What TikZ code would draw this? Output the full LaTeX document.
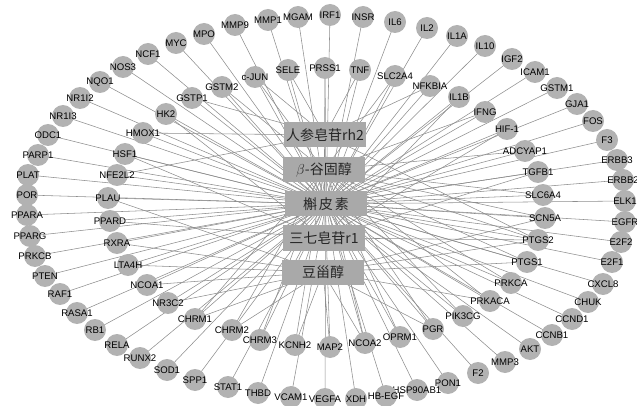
\documentclass[tikz,border=0pt]{standalone}
\usepackage{fontspec}
\newfontfamily\lsans{Liberation Sans}
\newfontfamily\cjk{Noto Sans CJK SC}
\pgfdeclarelayer{background}
\pgfsetlayers{background,main}
\definecolor{nodegray}{HTML}{B2B2B2}
\definecolor{boxgray}{HTML}{A9A9A9}
\definecolor{edgegray}{HTML}{8E8E8E}
\tikzset{
  gene/.style={circle, fill=nodegray, minimum size=22pt, inner sep=0pt},
  glabel/.style={font=\lsans\fontsize{9.6}{10}\selectfont, text=black, inner sep=0pt},
  comp/.style={rectangle, fill=boxgray, minimum width=82pt, minimum height=25pt, inner sep=0pt,
     font=\cjk\fontsize{14}{16}\selectfont, text=black!85},
  edge/.style={draw=edgegray, line width=0.55pt}
}
\newcommand{\gn}[4]{\node[gene, label={[glabel]center:#4}] (#1) at (#2,#3) {};}
\begin{document}
\begin{tikzpicture}[x=1pt,y=-1pt]
\useasboundingbox (0,0) rectangle (637,406);
% compounds
\node[comp] (RH2) at (325,135) {人参皂苷rh2};
\node[comp] (BS) at (324,170) {$\beta$-谷固醇};
\node[comp] (QU) at (326,204) {槲\hspace{2pt}皮\hspace{2pt}素};
\node[comp] (R1) at (324,238) {三七皂苷r1};
\node[comp] (ST) at (323,272) {豆甾醇};
% outer ring
\gn{IRF1}{330}{15}{IRF1}
\gn{INSR}{363}{17}{INSR}
\gn{IL6}{395}{22}{IL6}
\gn{IL2}{427}{28}{IL2}
\gn{ILoneA}{457}{36}{IL1A}
\gn{ILten}{485}{46}{IL10}
\gn{IGF2}{512}{59}{IGF2}
\gn{ICAM1}{535}{72}{ICAM1}
\gn{GSTM1}{557}{88}{GSTM1}
\gn{GJA1}{577}{104}{GJA1}
\gn{FOS}{593}{121}{FOS}
\gn{F3}{607}{140}{F3}
\gn{ERBB3}{617}{160}{ERBB3}
\gn{ERBB2}{623}{180}{ERBB2}
\gn{ELK1}{625}{201}{ELK1}
\gn{EGFR}{625}{222}{EGFR}
\gn{E2F2}{621}{242}{E2F2}
\gn{E2F1}{612}{262}{E2F1}
\gn{CXCL8}{603}{284}{CXCL8}
\gn{CHUK}{588}{302}{CHUK}
\gn{CCND1}{572}{319}{CCND1}
\gn{CCNB1}{552}{335}{CCNB1}
\gn{AKT}{530}{349}{AKT}
\gn{MMP3}{505}{362}{MMP3}
\gn{F2}{478}{373}{F2}
\gn{PON1}{448}{383}{PON1}
\gn{HSP}{417}{390}{HSP90AB1}
\gn{HBEGF}{386}{396}{HB-EGF}
\gn{XDH}{356}{399}{XDH}
\gn{VEGFA}{325}{399}{VEGFA}
\gn{VCAM1}{291}{397}{VCAM1}
\gn{THBD}{258}{393}{THBD}
\gn{STAT1}{228}{387}{STAT1}
\gn{SPP1}{195}{380}{SPP1}
\gn{SOD1}{167}{370}{SOD1}
\gn{RUNX2}{140}{358}{RUNX2}
\gn{RELA}{117}{345}{RELA}
\gn{RB1}{95}{330}{RB1}
\gn{RASA1}{77}{313}{RASA1}
\gn{RAF1}{60}{294}{RAF1}
\gn{PTEN}{45}{276}{PTEN}
\gn{PRKCB}{35}{256}{PRKCB}
\gn{PPARG}{30}{236}{PPARG}
\gn{PPARA}{27}{215}{PPARA}
\gn{POR}{27}{195}{POR}
\gn{PLAT}{28}{175}{PLAT}
\gn{PARP1}{38}{155}{PARP1}
\gn{ODC1}{48}{135}{ODC1}
\gn{NR1I3}{63}{116}{NR1I3}
\gn{NR1I2}{80}{98}{NR1I2}
\gn{NQO1}{100}{82}{NQO1}
\gn{NOS3}{123}{67}{NOS3}
\gn{NCF1}{148}{54}{NCF1}
\gn{MYC}{176}{43}{MYC}
\gn{MPO}{204}{34}{MPO}
\gn{MMP9}{235}{25}{MMP9}
\gn{MMP1}{268}{20}{MMP1}
\gn{MGAM}{298}{17}{MGAM}
% inner ring
\gn{SELE}{288}{70}{SELE}
\gn{PRSS1}{325}{68}{PRSS1}
\gn{TNF}{360}{70}{TNF}
\gn{SLC2A4}{395}{76}{SLC2A4}
\gn{NFKBIA}{430}{86}{NFKBIA}
\gn{IL1B}{459}{97}{IL1B}
\gn{IFNG}{485}{112}{IFNG}
\gn{HIF1}{507}{129}{HIF-1}
\gn{ADCYAP1}{525}{151}{ADCYAP1}
\gn{TGFB1}{538}{172}{TGFB1}
\gn{SLC6A4}{543}{195}{SLC6A4}
\gn{SCN5A}{545}{218}{SCN5A}
\gn{PTGS2}{538}{240}{PTGS2}
\gn{PTGS1}{527}{262}{PTGS1}
\gn{PRKCA}{511}{283}{PRKCA}
\gn{PRKACA}{490}{301}{PRKACA}
\gn{PIK3CG}{463}{316}{PIK3CG}
\gn{PGR}{433}{329}{PGR}
\gn{OPRM1}{400}{337}{OPRM1}
\gn{NCOA2}{365}{343}{NCOA2}
\gn{MAP2}{330}{347}{MAP2}
\gn{KCNH2}{295}{345}{KCNH2}
\gn{CHRM3}{260}{340}{CHRM3}
\gn{CHRM2}{232}{330}{CHRM2}
\gn{CHRM1}{195}{319}{CHRM1}
\gn{NR3C2}{168}{303}{NR3C2}
\gn{NCOA1}{147}{285}{NCOA1}
\gn{LTA4H}{128}{265}{LTA4H}
\gn{RXRA}{117}{243}{RXRA}
\gn{PPARD}{110}{221}{PPARD}
\gn{PLAU}{108}{198}{PLAU}
\gn{NFE2L2}{117}{175}{NFE2L2}
\gn{HSF1}{125}{154}{HSF1}
\gn{HMOX1}{143}{133}{HMOX1}
\gn{HK2}{166}{114}{HK2}
\gn{GSTP1}{192}{98}{GSTP1}
\gn{GSTM2}{222}{87}{GSTM2}
\gn{cJUN}{255}{77}{c-JUN}
\begin{pgfonlayer}{background}
\foreach \g in {IRF1,INSR,IL6,IL2,ILoneA,ILten,IGF2,ICAM1,GSTM1,GJA1,FOS,F3,ERBB3,ERBB2,ELK1,EGFR,E2F2,E2F1,CXCL8,CHUK,CCND1,CCNB1,AKT,MMP3,F2,PON1,HSP,HBEGF,XDH,VEGFA,VCAM1,THBD,STAT1,SPP1,SOD1,RUNX2,RELA,RB1,RASA1,RAF1,PTEN,PRKCB,PPARG,PPARA,POR,PLAT,PARP1,ODC1,NR1I3,NR1I2,NQO1,NOS3,NCF1,MYC,MPO,MMP9,MMP1,MGAM}
  {\draw[edge] (\g.center) -- (QU.center);}
\foreach \g/\c in {SELE/QU,SELE/RH2,PRSS1/QU,PRSS1/R1,TNF/QU,TNF/RH2,SLC2A4/QU,SLC2A4/BS,
  NFKBIA/QU,NFKBIA/RH2,IL1B/QU,IL1B/R1,IFNG/QU,IFNG/BS,HIF1/QU,HIF1/R1,ADCYAP1/QU,ADCYAP1/BS,
  TGFB1/QU,TGFB1/R1,SLC6A4/QU,SLC6A4/BS,SCN5A/QU,SCN5A/BS,SCN5A/ST,
  PTGS2/QU,PTGS2/BS,PTGS2/ST,PTGS2/RH2,PTGS2/R1,PTGS1/QU,PTGS1/BS,PTGS1/ST,
  PRKCA/QU,PRKCA/BS,PRKACA/QU,PRKACA/BS,PRKACA/ST,PIK3CG/QU,PIK3CG/BS,
  PGR/QU,PGR/BS,PGR/ST,OPRM1/QU,OPRM1/BS,NCOA2/QU,NCOA2/BS,NCOA2/ST,
  MAP2/BS,MAP2/ST,KCNH2/BS,KCNH2/ST,CHRM3/QU,CHRM3/BS,CHRM2/BS,CHRM2/ST,
  CHRM1/QU,CHRM1/BS,CHRM1/ST,NR3C2/QU,NR3C2/ST,NCOA1/QU,NCOA1/ST,LTA4H/QU,LTA4H/ST,
  RXRA/QU,RXRA/ST,PPARD/QU,PPARD/R1,PLAU/QU,PLAU/ST,NFE2L2/QU,NFE2L2/RH2,
  HSF1/QU,HSF1/R1,HMOX1/QU,HMOX1/RH2,HK2/QU,HK2/R1,GSTP1/QU,GSTP1/RH2,
  GSTM2/QU,GSTM2/BS,cJUN/QU,cJUN/BS,cJUN/RH2}
  {\draw[edge] (\g.center) -- (\c.center);}
\end{pgfonlayer}
\end{tikzpicture}
\end{document}
